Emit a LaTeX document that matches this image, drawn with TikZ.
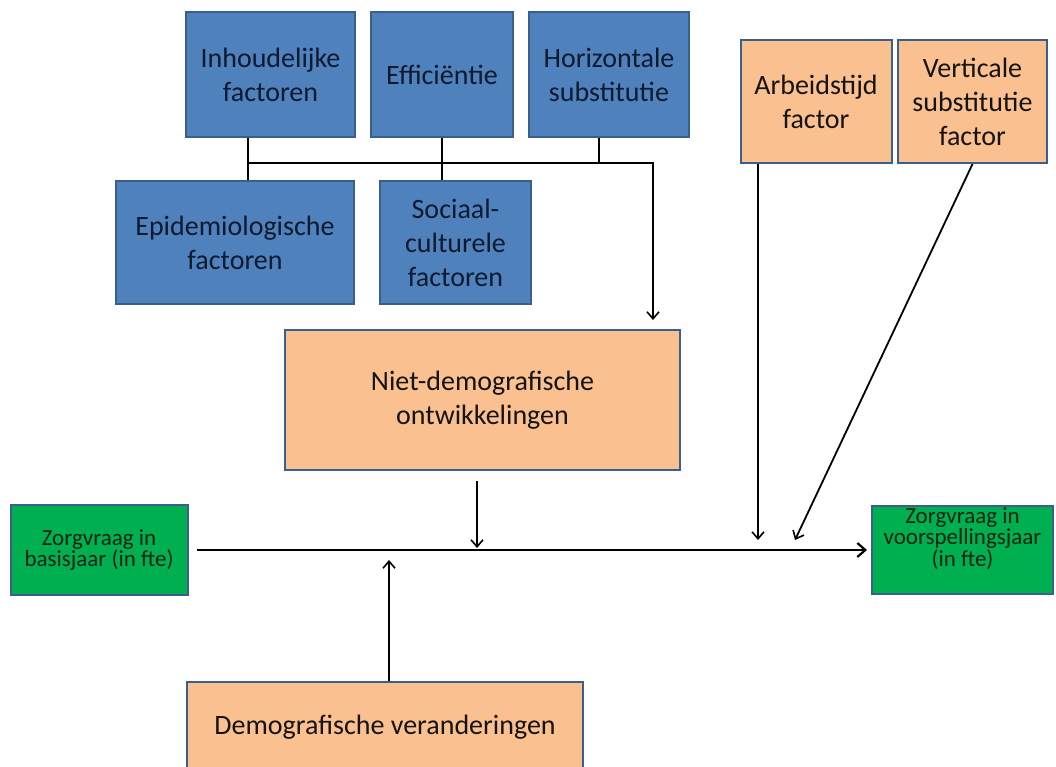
\documentclass[tikz,border=0pt]{standalone}
\usepackage{fontspec}
\setmainfont{Carlito}
\usetikzlibrary{arrows.meta,calc}
\definecolor{blueF}{HTML}{4F81BD}
\definecolor{bordc}{HTML}{3A5F8C}
\definecolor{blueT}{HTML}{0F1A2E}
\definecolor{orangeF}{HTML}{FAC090}
\definecolor{greenF}{HTML}{00B050}
\definecolor{greenT}{HTML}{0B2414}
\begin{document}
\begin{tikzpicture}[x=1pt,y=-1pt,
  box/.style={draw=bordc, line width=2pt, rectangle, inner sep=0pt, align=center,
    font=\fontsize{28}{34}\selectfont},
  bluebox/.style={box, fill=blueF, text=blueT},
  orbox/.style={box, fill=orangeF, text=black!92},
  grbox/.style={box, fill=greenF, text=greenT, font=\fontsize{23}{19}\selectfont},
  grtext/.style={inner sep=0pt, align=center, text=greenT, font=\fontsize{23}{19}\selectfont},
  conn/.style={line width=1.8pt, draw=black},
  arr/.style={conn, -{Straight Barb[length=7pt,width=12pt,line width=1.6pt]}},
  mainarr/.style={line width=2.8pt, draw=black, -{Straight Barb[length=8pt,width=14pt,line width=2.2pt]}}
]
\useasboundingbox (0,0) rectangle (1056,767);
\clip (0,0) rectangle (1056,767);

% top blue row
\node[bluebox, minimum width=169pt, minimum height=125pt] (inh) at (270.5,75) {Inhoudelijke\\factoren};
\node[bluebox, minimum width=142pt, minimum height=125pt] (eff) at (442,75) {Efficiëntie};
\node[bluebox, minimum width=160pt, minimum height=125pt] (hor) at (609,75) {Horizontale\\substitutie};
% second blue row
\node[bluebox, minimum width=238pt, minimum height=123pt] (epi) at (235,242.5) {Epidemiologische\\factoren};
\node[bluebox, minimum width=151pt, minimum height=123pt] (soc) at (455.5,242.5) {Sociaal-\\culturele\\factoren};
% orange top right
\node[orbox, minimum width=151pt, minimum height=123pt] (arb) at (816,101.5) {Arbeidstijd\\factor};
\node[orbox, minimum width=149pt, minimum height=123pt] (ver) at (972.5,101.5) {Verticale\\substitutie\\factor};
% middle orange
\node[orbox, minimum width=395pt, minimum height=140pt] (niet) at (482.5,400) {Niet-demografische\\ontwikkelingen};
% bottom orange
\node[orbox, minimum width=396pt, minimum height=90pt] (dem) at (385,727) {Demografische veranderingen};
% green
\node[grbox, minimum width=177pt, minimum height=90pt] (zl) at (99,550) {Zorgvraag in\\basisjaar (in fte)};
\node[grbox, minimum width=181pt, minimum height=88pt] (zr) at (962.5,550) {};
\node[grtext] (zrt) at (962.5,539) {Zorgvraag in\\voorspellingsjaar\\(in fte)};

% bus connectors
\coordinate (b1) at (248,163);
\coordinate (b3) at (599,163);
\coordinate (b4) at (653,163);
\draw[conn] (b1 |- inh.south) -- (b1 |- epi.north);
\draw[conn] (eff.south) -- (eff.south |- soc.north);
\draw[conn] (b3 |- hor.south) -- (b3);
\draw[arr] (b1) -- (b4) -- ($(b4 |- niet.north)+(0,-9)$);

% main line
\draw[mainarr] ($(zl.east)+(8,0)$) -- ($(zr.west)+(-4,0)$);
\coordinate (p1) at (477,548);
\coordinate (p2) at (389,560);
\coordinate (p3) at (758,540);
\coordinate (p4) at (795,540);
\draw[arr] (p1 |- niet.south) ++(0,10) -- (p1);
\draw[arr] (dem.north -| p2) -- (p2);
\draw[arr] (arb.south -| p3) -- (p3);
\draw[arr] (ver.south) -- (p4);
\end{tikzpicture}
\end{document}
